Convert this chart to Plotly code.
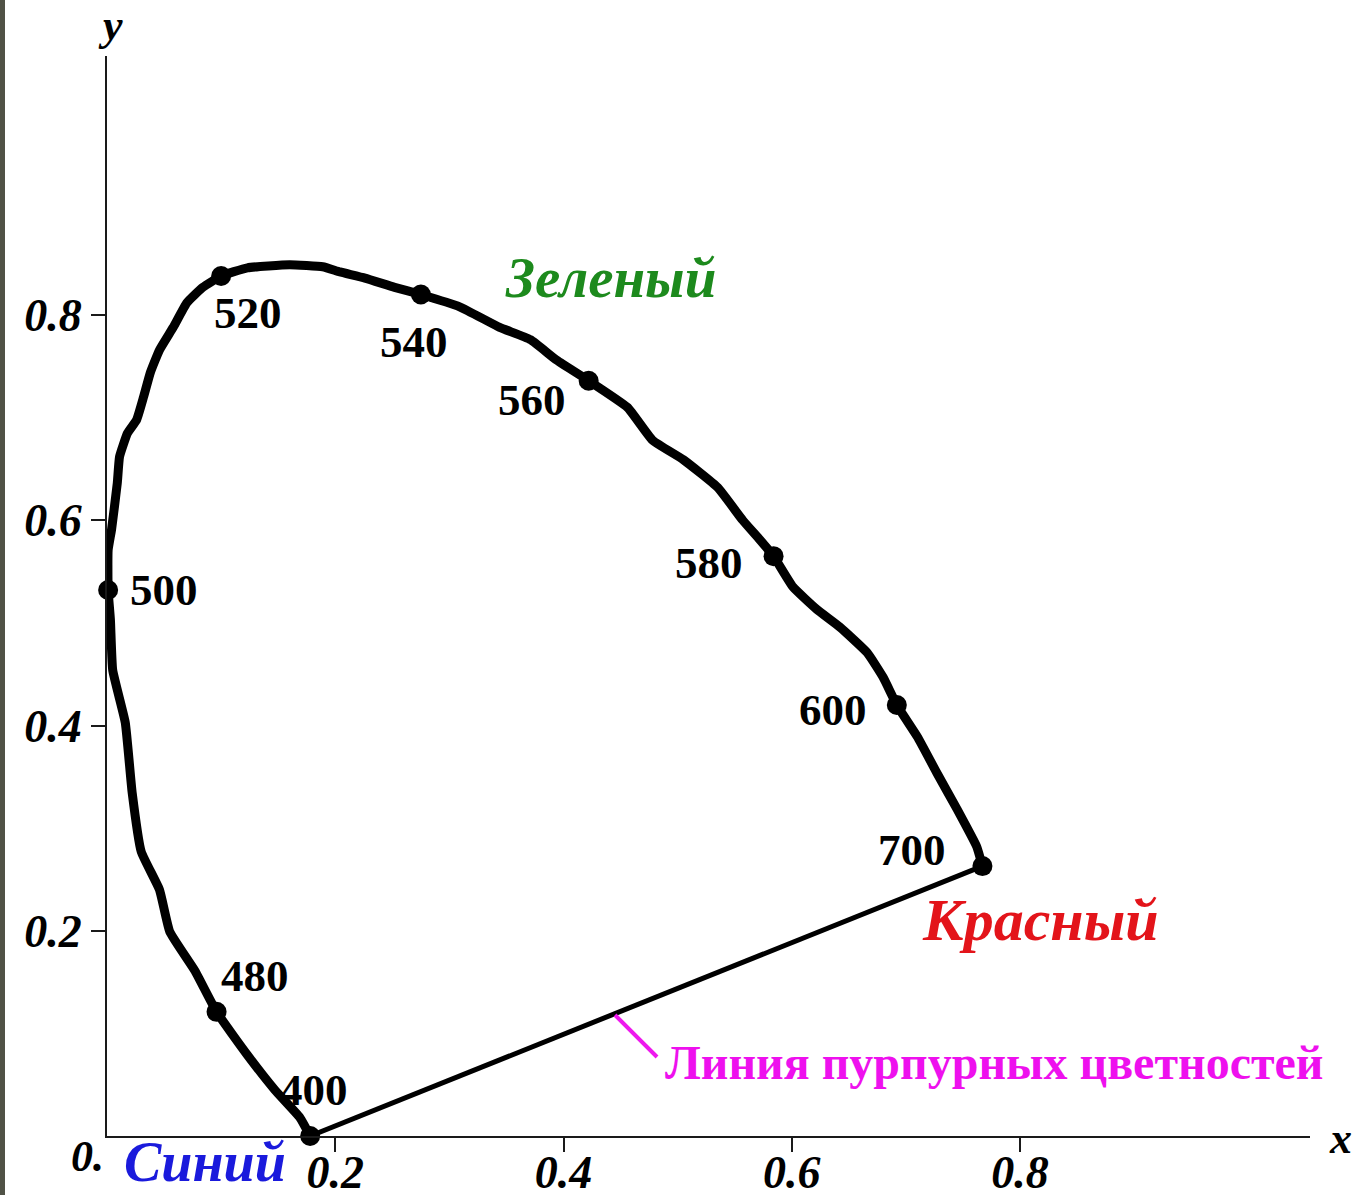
import plotly.graph_objects as go

# Spectral locus, traced from violet (400 nm) through green to red (700 nm)
locus_x = [0.178, 0.169, 0.147, 0.123, 0.096, 0.077, 0.055, 0.046, 0.030, 0.022,
           0.016, 0.005, 0.003, 0.001, 0.001, 0.004, 0.009, 0.011, 0.018, 0.026,
           0.032, 0.038, 0.046, 0.058, 0.070, 0.084, 0.100, 0.123, 0.160, 0.189,
           0.204, 0.226, 0.252, 0.275, 0.309, 0.344, 0.371, 0.394, 0.422, 0.456,
           0.478, 0.505, 0.535, 0.557, 0.572, 0.584, 0.601, 0.622, 0.642, 0.666,
           0.680, 0.692, 0.710, 0.727, 0.745, 0.762, 0.767]
locus_y = [0.000, 0.018, 0.045, 0.079, 0.121, 0.161, 0.199, 0.240, 0.277, 0.335,
           0.403, 0.454, 0.503, 0.532, 0.571, 0.591, 0.636, 0.662, 0.685, 0.698,
           0.720, 0.744, 0.766, 0.788, 0.812, 0.827, 0.838, 0.846, 0.849, 0.847,
           0.842, 0.836, 0.827, 0.820, 0.808, 0.788, 0.776, 0.756, 0.736, 0.710,
           0.678, 0.659, 0.632, 0.600, 0.581, 0.565, 0.535, 0.513, 0.496, 0.471,
           0.447, 0.420, 0.389, 0.354, 0.318, 0.282, 0.263]

# Marked wavelengths (nm) and their chromaticity coordinates
wavelengths = [400, 480, 500, 520, 540, 560, 580, 600, 700]
wl_x = [0.178, 0.096, 0.001, 0.100, 0.275, 0.422, 0.584, 0.692, 0.767]
wl_y = [0.000, 0.121, 0.532, 0.838, 0.820, 0.736, 0.565, 0.420, 0.263]

# Line of purples: joins the two ends of the spectrum
purple_x = [0.767, 0.178]
purple_y = [0.263, 0.000]

x_ticks = [0.2, 0.4, 0.6, 0.8]
y_ticks = [0.2, 0.4, 0.6, 0.8]
x_tick_text = ["0.2", "0.4", "0.6", "0.8"]
y_tick_text = ["0.2", "0.4", "0.6", "0.8"]

# label offsets in pixels relative to each wavelength marker
label_shift = {400: (4, 46), 480: (38, 36), 500: (56, 0), 520: (27, -37),
               540: (-7, -48), 560: (-57, -19), 580: (-65, -7),
               600: (-64, -5), 700: (-70, 16)}

SERIF = "Liberation Serif"

fig = go.Figure()

fig.add_trace(go.Scatter(
    x=purple_x, y=purple_y, mode="lines",
    line=dict(color="black", width=5), cliponaxis=False, hoverinfo="skip"))

fig.add_trace(go.Scatter(
    x=locus_x, y=locus_y, mode="lines",
    line=dict(color="black", width=9, shape="spline", smoothing=0.4),
    cliponaxis=False, hoverinfo="skip"))

fig.add_trace(go.Scatter(
    x=wl_x, y=wl_y, mode="markers",
    marker=dict(color="black", size=20), cliponaxis=False,
    text=[str(w) for w in wavelengths], hoverinfo="text"))

for w, xv, yv in zip(wavelengths, wl_x, wl_y):
    dx, dy = label_shift[w]
    fig.add_annotation(x=xv, y=yv, text=str(w), showarrow=False,
                       xshift=dx, yshift=dy,
                       font=dict(family=SERIF, size=45, color="black",
                                 weight="bold"))

# colour names
fig.add_annotation(x=0.441, y=0.837, text="Зеленый", showarrow=False,
                   font=dict(family=SERIF, size=57, color="#1d8a1d",
                             style="italic", weight="bold"))
fig.add_annotation(x=0.8175, y=0.2105, text="Красный", showarrow=False,
                   font=dict(family=SERIF, size=60, color="#e3141a",
                             style="italic", weight="bold"))
fig.add_annotation(x=0.0815, y=-0.0245, xref="paper", yref="paper",
                   xanchor="center", yanchor="middle",
                   text="Синий", showarrow=False,
                   font=dict(family=SERIF, size=56, color="#1a1adc",
                             style="italic", weight="bold"))

# line of purples caption with its leader
fig.add_shape(type="line", x0=0.4451, y0=0.1179, x1=0.4819, y1=0.0770,
              line=dict(color="#ee18ee", width=4))
fig.add_annotation(x=0.4872, y=0.072, text="Линия пурпурных цветностей",
                   showarrow=False, xanchor="left",
                   font=dict(family=SERIF, size=48, color="#ee10ee",
                             weight="bold"))

# axis names and the origin label
axis_font = dict(family=SERIF, size=44, color="black", weight="bold",
                 style="italic")
fig.add_annotation(x=0.0025, y=1.0287, xref="paper", yref="paper",
                   xanchor="center", yanchor="middle",
                   text="y", showarrow=False, font=axis_font)
fig.add_annotation(x=1.025, y=-0.0019, xref="paper", yref="paper",
                   xanchor="center", yanchor="middle",
                   text="x", showarrow=False, font=axis_font)
fig.add_annotation(x=-0.0166, y=-0.0194, xref="paper", yref="paper",
                   xanchor="center", yanchor="middle",
                   text="0.", showarrow=False, font=axis_font)

# dark strip along the left edge of the page
fig.add_shape(type="rect", xref="paper", yref="paper",
              x0=-107 / 1203, x1=-102 / 1203, y0=-60 / 1080, y1=1137 / 1080,
              fillcolor="#505246", line=dict(width=0), layer="below")

tick_font = dict(family=SERIF, size=46, color="black", weight="bold",
                 style="italic")

axis_common = dict(showgrid=False, zeroline=False, automargin=False,
                   showline=True, linecolor="#1a1a1a", linewidth=2,
                   ticks="outside", ticklen=14, tickwidth=2,
                   tickcolor="#1a1a1a", tickfont=tick_font)

fig.update_layout(
    width=1358, height=1195,
    margin=dict(l=107, r=48, t=56, b=59),
    paper_bgcolor="white", plot_bgcolor="white",
    showlegend=False,
    xaxis=dict(range=[0, 1.054], tickvals=x_ticks, ticktext=x_tick_text,
               ticklabelstandoff=-19, **axis_common),
    yaxis=dict(range=[0, 1.0524], tickvals=y_ticks, ticktext=y_tick_text,
               **axis_common),
)

fig.write_html("out.html")
